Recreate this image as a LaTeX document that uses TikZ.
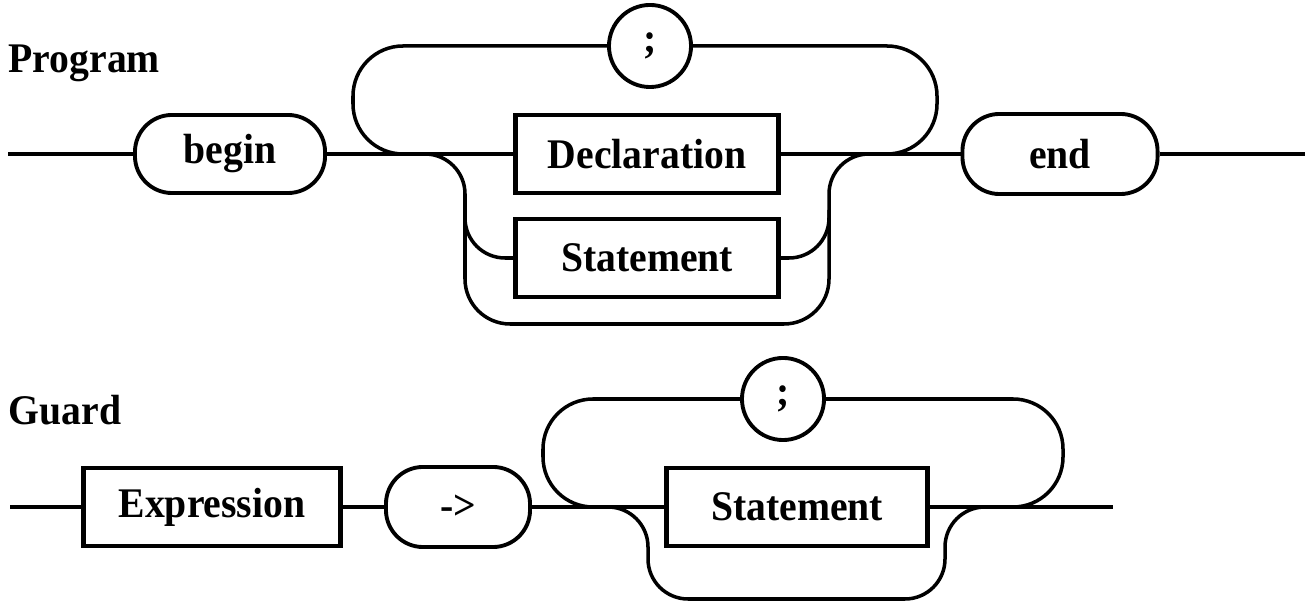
\documentclass[tikz,border=0pt]{standalone}
\usepackage{fontspec}
\setmainfont{Liberation Serif}[FakeStretch=0.94]
\begin{document}
\begin{tikzpicture}[x=0.01cm, y=-0.01cm,
    every node/.style={font=\fontsize{12}{14}\selectfont\bfseries, inner sep=0pt},
    box/.style={draw, line width=1.4pt, minimum height=0.78cm},
    term/.style={draw, line width=1.1pt, rounded corners=0.37cm, minimum height=0.78cm},
    semi/.style={draw, circle, line width=1.1pt, minimum size=0.82cm},
    rail/.style={line width=1pt}]
    \useasboundingbox (0,0) rectangle (1312,604);

    % Program
    \node[anchor=base west] (label_1) at (8,73) {Program};
    \coordinate (in_1) at (8,154);
    \node[term, minimum width=1.9cm] (begin) at (230,154) {begin};
    \node[box, minimum width=2.62cm] (decl) at (647,154) {Declaration};
    \node[box, minimum width=2.62cm] (stmt_1) at (647,258) {Statement};
    \node[semi] (semi_1) at (650,46) {;};
    \node[term, minimum width=1.95cm, minimum height=0.8cm] (end) at (1060,154) {end};
    \coordinate (out_1) at (1305,154);

    \draw[rail] (in_1) -- (begin) -- (decl) -- (end) -- (out_1);
    \draw[rail, rounded corners=0.5cm] (420,154) -| (353,46) -- (semi_1);
    \draw[rail, rounded corners=0.5cm] (semi_1) -- (937,46) |- (870,154);
    \draw[rail, rounded corners=0.4cm] (415,154) -| (465,258) -- (stmt_1.west);
    \draw[rail, rounded corners=0.45cm] (465,210) |- (829,324) -- (829,210);
    \draw[rail, rounded corners=0.4cm] (stmt_1.east) -| (829,154) -- (880,154);

    % Guard
    \node[anchor=base west] (label_2) at (8,425) {Guard};
    \coordinate (in_2) at (10,507);
    \node[box, minimum width=2.56cm] (expr) at (212,507) {Expression};
    \node[term, minimum width=1.44cm, minimum height=0.8cm] (arrow) at (458,507) {->};
    \node[box, minimum width=2.6cm] (stmt_2) at (797,507) {Statement};
    \node[semi] (semi_2) at (783,399) {;};
    \coordinate (out_2) at (1113,507);

    \draw[rail] (in_2) -- (expr) -- (arrow) -- (stmt_2) -- (out_2);
    \draw[rail, rounded corners=0.5cm] (600,507) -| (543,399) -- (semi_2);
    \draw[rail, rounded corners=0.5cm] (semi_2) -- (1063,399) |- (1000,507);
    \draw[rail, rounded corners=0.4cm] (600,507) -| (648,599) -| (945,507) -- (990,507);
\end{tikzpicture}
\end{document}
